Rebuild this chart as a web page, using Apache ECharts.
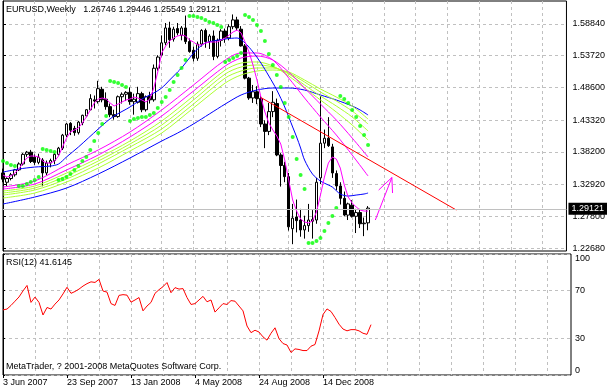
<!DOCTYPE html>
<html><head><meta charset="utf-8">
<script src="https://cdn.jsdelivr.net/npm/echarts@6/dist/echarts.min.js"></script>
<style>html,body{margin:0;padding:0;background:#fff}#c{width:608px;height:392px}</style>
</head><body><div id="c"></div>
<script>
const symbolName = 'EURUSD';
const timeframe = 'Weekly';
const rsiPeriod = 12;
const copyrightText = 'MetaTrader, ? 2001-2008 MetaQuotes Software Corp.';

const xTickBars = [0, 16, 32, 48, 64, 80];
const xTickLabels = ['3 Jun 2007', '23 Sep 2007', '13 Jan 2008', '4 May 2008', '24 Aug 2008', '14 Dec 2008'];
const gridBars = [0, 8, 16, 24, 32, 40, 48, 56, 64, 72, 80, 88, 96, 104, 112, 120, 128, 136];
const priceTicks = [1.2268, 1.2780, 1.3292, 1.3820, 1.4332, 1.4860, 1.5372, 1.5884];
const rsiTicks = [0, 30, 70, 100];

const opens = [1.3480,1.3330,1.3390,1.3450,1.3530,1.3625,1.3780,1.3815,1.3735,1.3650,
1.3690,1.3480,1.3640,1.3680,1.3780,1.3880,1.4090,1.4280,1.4200,1.4130,
1.4290,1.4400,1.4500,1.4660,1.4630,1.4830,1.4670,1.4550,1.4420,1.4390,
1.4710,1.4750,1.4780,1.4630,1.4620,1.4760,1.4500,1.4720,1.4660,1.5170,
1.5380,1.5580,1.5820,1.5640,1.5810,1.5700,1.5820,1.5600,1.5460,1.5330,
1.5560,1.5780,1.5600,1.5690,1.5360,1.5620,1.5770,1.5660,1.5840,1.5950,
1.5800,1.5530,1.5010,1.4690,1.4790,1.4680,1.4270,1.4150,1.4470,1.4600,
1.3770,1.3600,1.3420,1.2580,1.2770,1.2720,1.2560,1.2630,1.2700,1.2720,
1.3400,1.3960,1.4040,1.3900,1.3470,1.3270,1.3070,1.2800,1.2960,1.2780,
1.2840,1.2660,1.26746];
const highs = [1.3550,1.3410,1.3480,1.3545,1.3650,1.3800,1.3835,1.3852,1.3780,1.3790,
1.3720,1.3680,1.3710,1.3800,1.3900,1.4110,1.4285,1.4300,1.4240,1.4320,
1.4420,1.4510,1.4750,1.4730,1.4967,1.4870,1.4780,1.4600,1.4500,1.4730,
1.4780,1.4800,1.4860,1.4760,1.4870,1.4790,1.4730,1.4790,1.5230,1.5380,
1.5700,1.5900,1.5920,1.5840,1.5900,1.5850,1.6020,1.5650,1.5520,1.5600,
1.5800,1.5810,1.5720,1.5780,1.5650,1.5800,1.5810,1.5880,1.6038,1.6000,
1.5850,1.5560,1.5030,1.4900,1.4880,1.4720,1.4330,1.4610,1.4800,1.4680,
1.3800,1.3660,1.3480,1.2980,1.3050,1.2900,1.2790,1.2980,1.2880,1.3400,
1.4720,1.4180,1.4380,1.3950,1.3520,1.3330,1.3180,1.3000,1.3040,1.2900,
1.2900,1.2760,1.29446];
const lows = [1.3330,1.3265,1.3360,1.3420,1.3510,1.3600,1.3740,1.3640,1.3610,1.3620,
1.3265,1.3440,1.3570,1.3620,1.3760,1.3850,1.4060,1.4090,1.4080,1.4100,
1.4250,1.4380,1.4490,1.4520,1.4600,1.4620,1.4500,1.4380,1.4340,1.4370,
1.4600,1.4640,1.4580,1.4420,1.4600,1.4460,1.4470,1.4600,1.4630,1.5130,
1.5360,1.5540,1.5500,1.5600,1.5700,1.5620,1.5560,1.5420,1.5280,1.5290,
1.5520,1.5500,1.5480,1.5300,1.5330,1.5520,1.5580,1.5620,1.5800,1.5780,
1.5520,1.4990,1.4660,1.4610,1.4590,1.4220,1.3880,1.4090,1.4380,1.3750,
1.3260,1.3330,1.2550,1.2330,1.2520,1.2450,1.2420,1.2530,1.2420,1.2660,
1.3300,1.3880,1.3900,1.3400,1.3200,1.2970,1.2780,1.2720,1.2760,1.2510,
1.2590,1.2460,1.25549];
const closes = [1.3380,1.3390,1.3450,1.3530,1.3625,1.3780,1.3815,1.3665,1.3650,1.3735,
1.3480,1.3640,1.3680,1.3780,1.3880,1.4090,1.4270,1.4170,1.4130,1.4300,
1.4410,1.4500,1.4680,1.4640,1.4840,1.4660,1.4550,1.4420,1.4390,1.4710,
1.4750,1.4780,1.4630,1.4670,1.4760,1.4500,1.4710,1.4660,1.5170,1.5350,
1.5580,1.5820,1.5630,1.5800,1.5740,1.5820,1.5600,1.5440,1.5330,1.5560,
1.5780,1.5600,1.5690,1.5360,1.5620,1.5770,1.5660,1.5840,1.5950,1.5820,
1.5530,1.5010,1.4690,1.4790,1.4680,1.4270,1.4150,1.4470,1.4620,1.3770,
1.3600,1.3420,1.2610,1.2750,1.2710,1.2560,1.2630,1.2720,1.2730,1.3330,
1.3960,1.4040,1.3920,1.3480,1.3270,1.3070,1.2800,1.2980,1.2780,1.2840,
1.2660,1.2670,1.29121];

// fast magenta moving average, one reading per bar
const maFast = [1.3446,1.3414,1.3430,1.3478,1.3543,1.3640,1.3721,1.3753,1.3753,1.3737,
1.3672,1.3640,1.3640,1.3672,1.3753,1.3898,1.4043,1.4140,1.4173,1.4205,
1.4286,1.4383,1.4496,1.4609,1.4673,1.4689,1.4673,1.4609,1.4560,1.4592,
1.4625,1.4657,1.4673,1.4705,1.4689,1.4657,1.4625,1.4673,1.4851,1.5109,
1.5416,1.5529,1.5610,1.5658,1.5690,1.5706,1.5690,1.5626,1.5593,1.5545,
1.5545,1.5577,1.5593,1.5593,1.5593,1.5626,1.5658,1.5706,1.5755,1.5787,
1.5739,1.5593,1.5432,1.5222,1.4980,1.4705,1.4463,1.4286,1.4173,1.4076,
1.3947,1.3688,1.3365,1.3043,1.2865,1.2736,1.2688,1.2672,1.2704,1.2849,
1.3123,1.3414,1.3640,1.3737,1.3704,1.3559,1.3285,1.3091,1.2994,1.2930,
1.2881,1.2865,1.2865];

// medium blue moving average (read at these bars)
const maMidBars = [0,4,8,12,14,16,19,24,26,28,32,35,38,40,42,44,45,47,49,51,53,56,59,61,63,65,67,69,71,73,74,75,76,78,80,82,83,85,87,89,91,92];
const maMid = [1.3494,1.3543,1.3575,1.3591,1.3624,1.3737,1.3898,1.4189,1.4302,1.4399,1.4544,1.4673,1.4770,1.4851,1.4980,1.5109,1.5174,1.5335,1.5480,1.5577,1.5610,1.5642,1.5658,1.5577,1.5432,1.5254,1.5044,1.4818,1.4544,1.4221,1.4060,1.3882,1.3688,1.3462,1.3349,1.3285,1.3252,1.3140,1.3107,1.3123,1.3140,1.3156];

// ribbon of moving averages (read at these bars)
const ribbonBars = [0,8,16,24,32,40,48,56,60,64,68,72,76,80,84,88,92];
const ribbonMagenta1 = [1.3252,1.3349,1.3608,1.3850,1.4140,1.4496,1.4899,1.5303,1.5416,1.5416,1.5303,1.5012,1.4689,1.4383,1.4092,1.3769,1.3430];
const ribbonMagenta2 = [1.3220,1.3301,1.3527,1.3769,1.4060,1.4399,1.4802,1.5206,1.5335,1.5368,1.5303,1.5109,1.4851,1.4592,1.4334,1.4043,1.3737];
const ribbonGreen1 = [1.3188,1.3269,1.3478,1.3721,1.3995,1.4318,1.4722,1.5141,1.5254,1.5271,1.5206,1.5044,1.4851,1.4657,1.4463,1.4253,1.4011];
const ribbonGreen2 = [1.3156,1.3236,1.3430,1.3672,1.3947,1.4253,1.4657,1.5077,1.5190,1.5222,1.5190,1.5077,1.4899,1.4722,1.4560,1.4383,1.4157];
const ribbonGreen3 = [1.3123,1.3204,1.3381,1.3624,1.3898,1.4189,1.4592,1.5012,1.5125,1.5174,1.5174,1.5093,1.4948,1.4786,1.4641,1.4479,1.4270];
const ribbonGreen4 = [1.3075,1.3156,1.3333,1.3559,1.3834,1.4124,1.4528,1.4931,1.5061,1.5125,1.5141,1.5109,1.4980,1.4835,1.4705,1.4560,1.4350];

// slow blue moving average
const maSlowBars = [0,8,16,24,32,40,44,48,52,56,60,64,68,72,76,80,84,88,90,92];
const maSlow = [1.2978,1.3091,1.3236,1.3462,1.3721,1.3995,1.4124,1.4270,1.4431,1.4592,1.4738,1.4818,1.4851,1.4851,1.4818,1.4738,1.4657,1.4560,1.4496,1.4415];

// parabolic SAR, one per bar
const sar = [1.3672,1.3640,1.3608,1.3591,1.3269,1.3269,1.3301,1.3333,1.3365,1.3414,
1.3866,1.3850,1.3834,1.3817,1.3365,1.3381,1.3414,1.3462,1.3527,1.3591,
1.3672,1.3737,1.3850,1.3995,1.4124,1.4270,1.4399,1.4964,1.4948,1.4931,
1.4899,1.4867,1.4318,1.4350,1.4366,1.4383,1.4383,1.4415,1.4447,1.4528,
1.4625,1.4705,1.4818,1.4948,1.5061,1.5174,1.5303,1.6013,1.6013,1.5997,
1.5981,1.5949,1.5916,1.5900,1.5868,1.5836,1.5271,1.5303,1.5335,1.5368,
1.5416,1.6029,1.5997,1.5949,1.5868,1.5771,1.5610,1.5400,1.5222,1.5061,
1.4867,1.4609,1.4383,1.4060,1.3704,1.3446,1.3220,1.2348,1.2348,1.2381,
1.2429,1.2542,1.2672,1.2784,1.2914,1.4722,1.4673,1.4609,1.4496,1.4383,
1.4237,1.4092,1.3930];

// RSI(12), one per bar
const rsi = [53.8,54.5,57.5,61,64.5,69.5,74,60,64.4,60,
49.6,55.8,54.5,58.6,62,67,72.5,67.5,69,71,
73.5,75.5,77,76.5,79,69.4,68.5,59,57.5,65.8,
66.4,66,60.2,62,64,53,57,60,67.5,70.5,
73,76.4,68,72.2,71,71.4,64,58.3,59,62,
65,60.5,62,52,55.5,59,58.3,61.5,61,57,
53,40.5,35,37,35.5,31.5,28.8,34.5,39,30,
26,24.8,18.6,21.6,21.1,20.2,20.2,23.8,25.2,36.4,
50,54.6,52.5,47.5,42,38,36.5,37.5,37.5,36.5,
34.5,33.6,41.6145];

// drawn objects
const trendBars = [65, 114.25];
const trendPrices = [1.4697, 1.2881];
const arrowShaftBars = [93.83, 98];
const arrowShaftPrices = [1.2720, 1.3406];
const arrowHeadBars = [94.67, 98, 98.17];
const arrowHeadPrices = [1.3204, 1.3406, 1.3156];

const FONT = 'Liberation Sans, Arial, sans-serif';
const FS = 9;
const dash = { type: [3, 3], color: '#c0c0c0', width: 1 };
const last = closes.length - 1;
const barIdx = closes.map((_, i) => i);
const pairs = (xs, ys) => xs.map((x, i) => [x, ys[i]]);
function line(xs, ys, color, extra) {
  return Object.assign({
    type: 'line', xAxisIndex: 0, yAxisIndex: 0, data: pairs(xs, ys),
    symbol: 'none', showSymbol: false, silent: true, z: 3,
    lineStyle: { color: color, width: 1 }, itemStyle: { color: color }
  }, extra || {});
}

const chart = echarts.init(document.getElementById('c'), null, { renderer: 'canvas', width: 608, height: 392 });
const option = {
  animation: false,
  backgroundColor: '#fff',
  textStyle: { fontFamily: FONT },
  title: [
    { text: symbolName + ',' + timeframe + '   ' + opens[last].toFixed(5) + ' ' + highs[last].toFixed(5) + ' ' + lows[last].toFixed(5) + ' ' + closes[last].toFixed(5),
      left: 6, top: 5, padding: 0, textStyle: { fontSize: FS, fontWeight: 'normal', color: '#000', fontFamily: FONT } },
    { text: 'RSI(' + rsiPeriod + ') ' + rsi[last].toFixed(4),
      left: 6, top: 258, padding: 0, textStyle: { fontSize: FS, fontWeight: 'normal', color: '#000', fontFamily: FONT } },
    { text: copyrightText,
      left: 6, top: 362, padding: 0, textStyle: { fontSize: FS, fontWeight: 'normal', color: '#000', fontFamily: FONT } }
  ],
  grid: [
    { left: 3, top: 1, width: 568, height: 250, show: true, borderColor: '#000', borderWidth: 1, backgroundColor: 'rgba(0,0,0,0)' },
    { left: 3, top: 254, width: 568, height: 121, show: true, borderColor: '#000', borderWidth: 1, backgroundColor: 'rgba(0,0,0,0)' }
  ],
  xAxis: [
    { type: 'value', gridIndex: 0, min: 0, max: 142, axisLine: { show: false },
      axisTick: { show: false, customValues: gridBars }, axisLabel: { show: false },
      splitLine: { show: true, lineStyle: dash } },
    { type: 'value', gridIndex: 1, min: 0, max: 142, axisLine: { show: false },
      axisTick: { show: false, customValues: gridBars },
      axisLabel: { show: true, customValues: xTickBars, formatter: v => { const k = xTickBars.indexOf(Math.round(v)); return k >= 0 ? xTickLabels[k] : ''; },
        align: 'left', margin: 3, color: '#000', fontSize: FS, fontFamily: FONT },
      splitLine: { show: true, lineStyle: dash } },
    { type: 'value', gridIndex: 1, min: 0, max: 142, position: 'bottom', axisLine: { show: false },
      axisTick: { show: true, inside: false, length: 3, customValues: xTickBars, lineStyle: { color: '#000' } },
      axisLabel: { show: false }, splitLine: { show: false } }
  ],
  yAxis: [
    { type: 'value', gridIndex: 0, position: 'right', min: 1.2220, max: 1.6255, scale: true,
      axisLine: { show: true, lineStyle: { color: '#000' } },
      axisTick: { show: true, length: 3, customValues: priceTicks, lineStyle: { color: '#000' } },
      axisLabel: { show: true, customValues: priceTicks, formatter: v => v.toFixed(5), margin: 6, color: '#000', fontSize: FS, fontFamily: FONT },
      splitLine: { show: true, lineStyle: dash } },
    { type: 'value', gridIndex: 1, position: 'right', min: 0, max: 100,
      axisLine: { show: true, lineStyle: { color: '#000' } },
      axisTick: { show: true, length: 2, customValues: rsiTicks, lineStyle: { color: '#000' } },
      axisLabel: { show: true, customValues: rsiTicks, margin: 4, color: '#000', fontSize: FS, fontFamily: FONT,
        verticalAlignMinLabel: 'bottom', verticalAlignMaxLabel: 'top' },
      splitLine: { show: true, lineStyle: dash } }
  ],
  series: [
    { type: 'candlestick', xAxisIndex: 0, yAxisIndex: 0, z: 2, silent: true, barWidth: 3,
      data: barIdx.map(i => [i, opens[i], closes[i], lows[i], highs[i]]),
      itemStyle: { color: '#fff', color0: '#000', borderColor: '#000', borderColor0: '#000', borderWidth: 1 },
      markLine: { silent: true, symbol: 'none', animation: false,
        lineStyle: { color: '#c0c0c0', type: 'solid', width: 1 },
        label: { show: true, position: 'end', distance: 2, formatter: closes[last].toFixed(5), color: '#fff', backgroundColor: '#000',
          padding: [2, 3, 1, 3], fontSize: FS, fontFamily: FONT },
        data: [{ yAxis: closes[last] }] } },
    line(maSlowBars, maSlow, '#0000ff', { smooth: 0.3 }),
    line(ribbonBars, ribbonGreen4, '#adff2f', { smooth: 0.3 }),
    line(ribbonBars, ribbonGreen3, '#adff2f', { smooth: 0.3 }),
    line(ribbonBars, ribbonGreen2, '#adff2f', { smooth: 0.3 }),
    line(ribbonBars, ribbonGreen1, '#adff2f', { smooth: 0.3 }),
    line(ribbonBars, ribbonMagenta2, '#ff00ff', { smooth: 0.3 }),
    line(ribbonBars, ribbonMagenta1, '#ff00ff', { smooth: 0.3 }),
    line(maMidBars, maMid, '#0000ff', { smooth: 0.3 }),
    line(barIdx, maFast, '#ff00ff'),
    line(trendBars, trendPrices, '#ff0000'),
    line(arrowShaftBars, arrowShaftPrices, '#ff00ff'),
    line(arrowHeadBars, arrowHeadPrices, '#ff00ff'),
    { type: 'scatter', xAxisIndex: 0, yAxisIndex: 0, z: 4, silent: true, symbol: 'circle', symbolSize: 4,
      data: pairs(barIdx, sar), itemStyle: { color: '#00ff00' } },
    { type: 'line', xAxisIndex: 1, yAxisIndex: 1, data: pairs(barIdx, rsi), symbol: 'none', silent: true,
      lineStyle: { color: '#ff0000', width: 1 }, itemStyle: { color: '#ff0000' } }
  ]
};
chart.setOption(option);
</script>
</body></html>
